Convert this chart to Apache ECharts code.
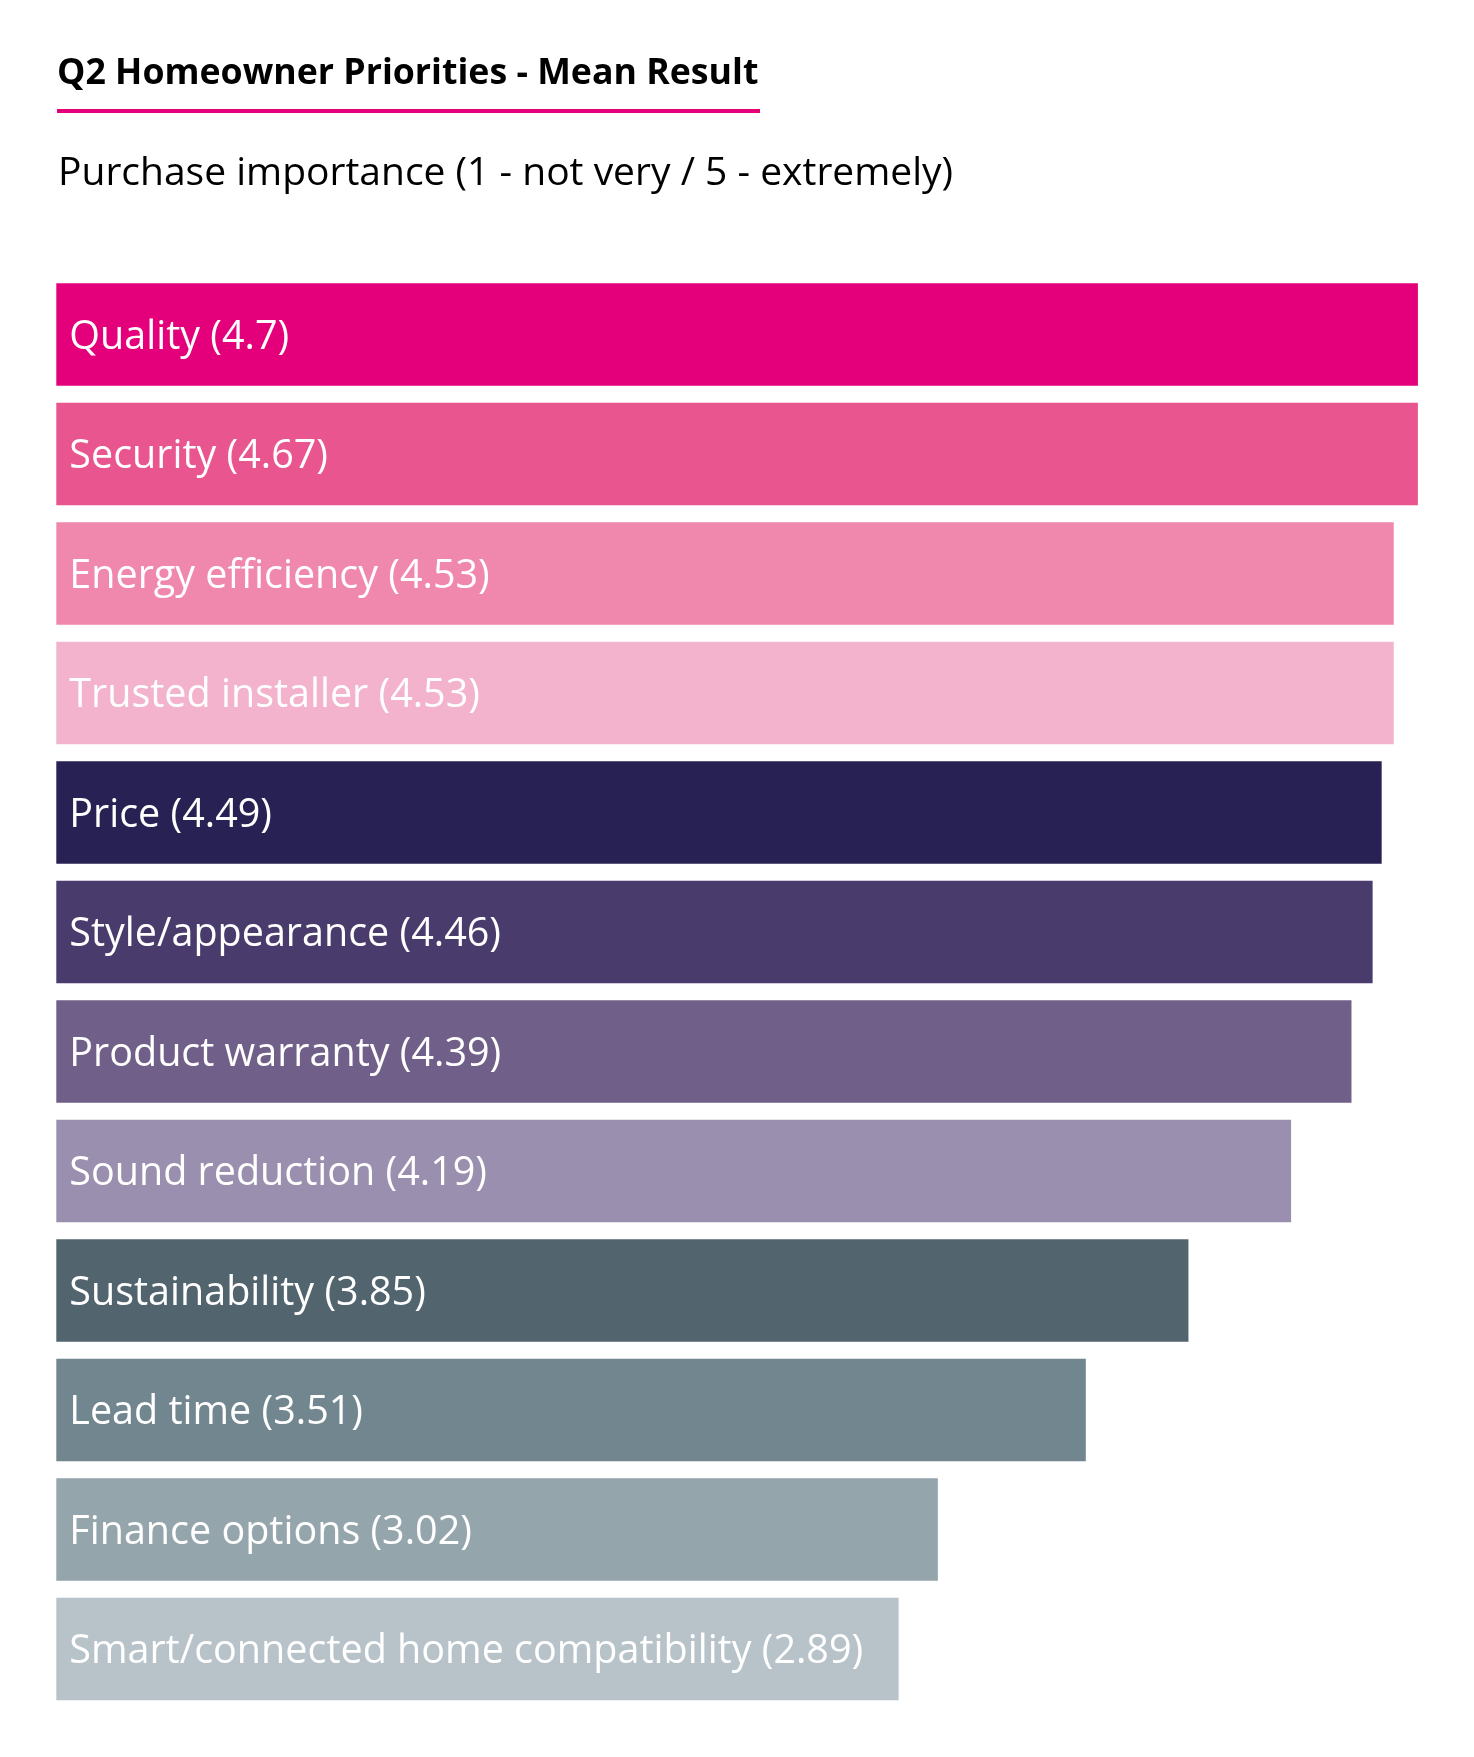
<!DOCTYPE html>
<html>
<head>
<meta charset="utf-8">
<script src="https://cdn.jsdelivr.net/npm/echarts@6/dist/echarts.min.js"></script>
<style>
html,body{margin:0;padding:0;background:#fff;}
#chart{width:1474px;height:1757px;}
</style>
</head>
<body>
<div id="chart"></div>
<script>
const categories = ["Quality","Security","Energy efficiency","Trusted installer","Price","Style/appearance","Product warranty","Sound reduction","Sustainability","Lead time","Finance options","Smart/connected home compatibility"];
const values = [4.7,4.67,4.53,4.53,4.49,4.46,4.39,4.19,3.85,3.51,3.02,2.89];
const colors = ["#E4007A","#E9558E","#F088AD","#F3B3CD","#282153","#4A3B6D","#705F88","#9A8FAE","#52646E","#72868F","#95A5AC","#B8C3C9"];
const titleText = "Q2 Homeowner Priorities - Mean Result";
const subtitleText = "Purchase importance (1 - not very / 5 - extremely)";

const chart = echarts.init(document.getElementById('chart'), null, {renderer:'canvas'});
const FONT = '"Open Sans", "Noto Sans", sans-serif';
chart.setOption({
  backgroundColor:'#ffffff',
  animation:false,
  title:[
    {text:titleText, left:52, top:51, textStyle:{fontFamily:FONT, fontWeight:'bold', fontSize:35.7, color:'#000'}},
    {text:subtitleText, left:53, top:149, textStyle:{fontFamily:FONT, fontWeight:'normal', fontSize:39, color:'#000'}}
  ],
  graphic:[
    {type:'rect', shape:{x:57, y:109, width:703, height:4}, style:{fill:'#E4007A'}}
  ],
  grid:{left:56.3, top:274.7, width:1361.6, height:1434},
  xAxis:{type:'value', min:0.1, max:4.61, show:false},
  yAxis:{type:'category', data:categories, inverse:true, show:false},
  series:[{
    type:'bar',
    clip:true,
    barCategoryGap:'14.3%',
    data: values.map((v,i)=>({value:v, itemStyle:{color:colors[i]}})),
    label:{show:true, position:'insideLeft', distance:13, offset:[0,3], formatter:'{b} ({c})', color:'#fff', fontFamily:FONT, fontSize:39.5}
  }]
});
</script>
</body>
</html>
